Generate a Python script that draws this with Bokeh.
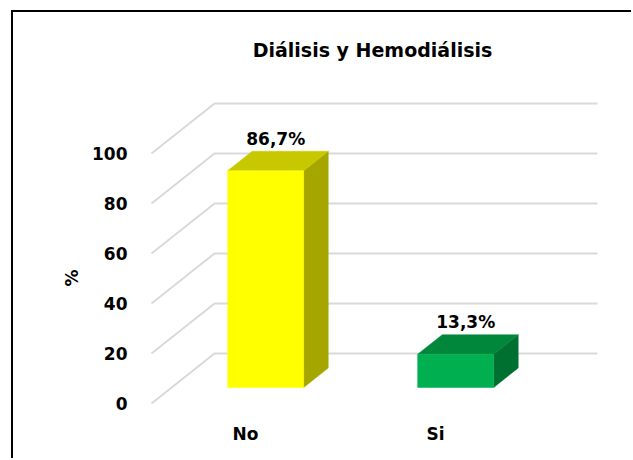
from bokeh.plotting import figure
from bokeh.models import Range1d, FixedTicker, ColumnDataSource, Label, Title
from bokeh.embed import file_html
from bokeh.resources import INLINE
from bokeh.core.properties import value

# ---------------- data ----------------
categories = ["No", "Si"]
percentages = [86.7, 13.3]
value_labels = ["86,7%", "13,3%"]
y_ticks = [0, 20, 40, 60, 80, 100]
title_text = "Diálisis y Hemodiálisis"
y_label = "%"

front_colors = ["#FFFF00", "#00B050"]
top_colors = ["#C8C800", "#00873C"]
side_colors = ["#A6A600", "#007030"]

# ---------------- 3D geometry (in axis units) ----------------
PX_PER_CAT = 190.0
DEPTH_X = 63 / PX_PER_CAT     # horizontal shift of the full floor depth
DEPTH_Y = 20.0                # vertical shift of the full floor depth (value units)
BAR_FRONT = 0.32              # depth fraction of bar front face
BAR_BACK = 0.71               # depth fraction of bar back face
BAR_W = 76 / PX_PER_CAT
GRID_LEFT = -94 / PX_PER_CAT
GRID_RIGHT = 352 / PX_PER_CAT

FONT = value("DejaVu Sans")

W, H = 620, 448
p = figure(width=W, height=H, output_backend="svg", toolbar_location=None,
           x_range=Range1d(-105 / PX_PER_CAT, 355 / PX_PER_CAT),
           y_range=Range1d(-2.8, 153.2),
           min_border_left=127, min_border_right=33,
           min_border_top=8, min_border_bottom=50)
p.margin = (10, 0, 0, 11)
p.styles = {"border-left": "2px solid #000000", "border-top": "2px solid #000000"}
p.outline_line_color = None
p.background_fill_color = "white"
p.border_fill_color = "white"
p.xgrid.visible = False
p.ygrid.visible = False

# gridlines: diagonal on floor/side + horizontal on back wall
gxs, gys = [], []
for t in y_ticks:
    gxs.append([GRID_LEFT, GRID_LEFT + DEPTH_X, GRID_RIGHT])
    gys.append([t, t + DEPTH_Y, t + DEPTH_Y])
p.multi_line(xs=gxs, ys=gys, line_color="#D9D9D9", line_width=2)

# bars
dX = (BAR_BACK - BAR_FRONT) * DEPTH_X
dY = (BAR_BACK - BAR_FRONT) * DEPTH_Y
fl, fr, fb, ft = [], [], [], []
top_xs, top_ys, side_xs, side_ys = [], [], [], []
for i, v in enumerate(percentages):
    cx = i + BAR_FRONT * DEPTH_X
    L, R = cx - BAR_W / 2, cx + BAR_W / 2
    B = BAR_FRONT * DEPTH_Y
    T = B + v
    fl.append(L); fr.append(R); fb.append(B); ft.append(T)
    top_xs.append([L, R, R + dX, L + dX])
    top_ys.append([T, T, T + dY, T + dY])
    side_xs.append([R, R, R + dX, R + dX])
    side_ys.append([B, T, T + dY, B + dY])

p.patches(xs=side_xs, ys=side_ys, fill_color=side_colors, line_color=side_colors, line_width=0.5)
p.patches(xs=top_xs, ys=top_ys, fill_color=top_colors, line_color=top_colors, line_width=0.5)
p.quad(left=fl, right=fr, bottom=fb, top=ft, fill_color=front_colors, line_color=front_colors, line_width=0.5)

# value labels
lab_src = ColumnDataSource(dict(
    x=[i + 0.48 * DEPTH_X for i in range(len(percentages))],
    y=[v + BAR_BACK * DEPTH_Y + 5.0 for v in percentages],
    t=value_labels))
p.text(x="x", y="y", text="t", source=lab_src, text_align="center",
       text_baseline="alphabetic", text_font=FONT, text_font_style="bold",
       text_font_size="17px", text_color="#000000")

# title
p.add_layout(Label(x=127 / PX_PER_CAT, y=141.5, text=title_text,
                   text_align="center", text_baseline="alphabetic",
                   text_font="DejaVu Sans", text_font_style="bold",
                   text_font_size="19px", text_color="#000000"))

# y-axis title as a side title on the left, anchored at the bottom and lifted
p.add_layout(Title(text=y_label, align="left", offset=124, standoff=16,
                   text_font="DejaVu Sans", text_font_style="bold",
                   text_font_size="17px", text_color="#000000"), "left")

# y axis
ya = p.yaxis[0]
ya.ticker = FixedTicker(ticks=y_ticks)
ya.axis_line_color = None
ya.major_tick_line_color = None
ya.minor_tick_line_color = None
ya.major_tick_out = 0
ya.major_tick_in = 0
ya.major_label_standoff = 13
ya.major_label_text_font = "DejaVu Sans"
ya.major_label_text_font_style = "bold"
ya.major_label_text_font_size = "17px"
ya.major_label_text_color = "#000000"

# x axis
xa = p.xaxis[0]
xa.ticker = FixedTicker(ticks=list(range(len(categories))))
xa.major_label_overrides = {i: c for i, c in enumerate(categories)}
xa.axis_line_color = None
xa.major_tick_line_color = None
xa.minor_tick_line_color = None
xa.major_tick_out = 0
xa.major_tick_in = 0
xa.major_label_standoff = 13
xa.major_label_text_font = "DejaVu Sans"
xa.major_label_text_font_style = "bold"
xa.major_label_text_font_size = "17px"
xa.major_label_text_color = "#000000"

open("out.html", "w").write(file_html(p, INLINE))
